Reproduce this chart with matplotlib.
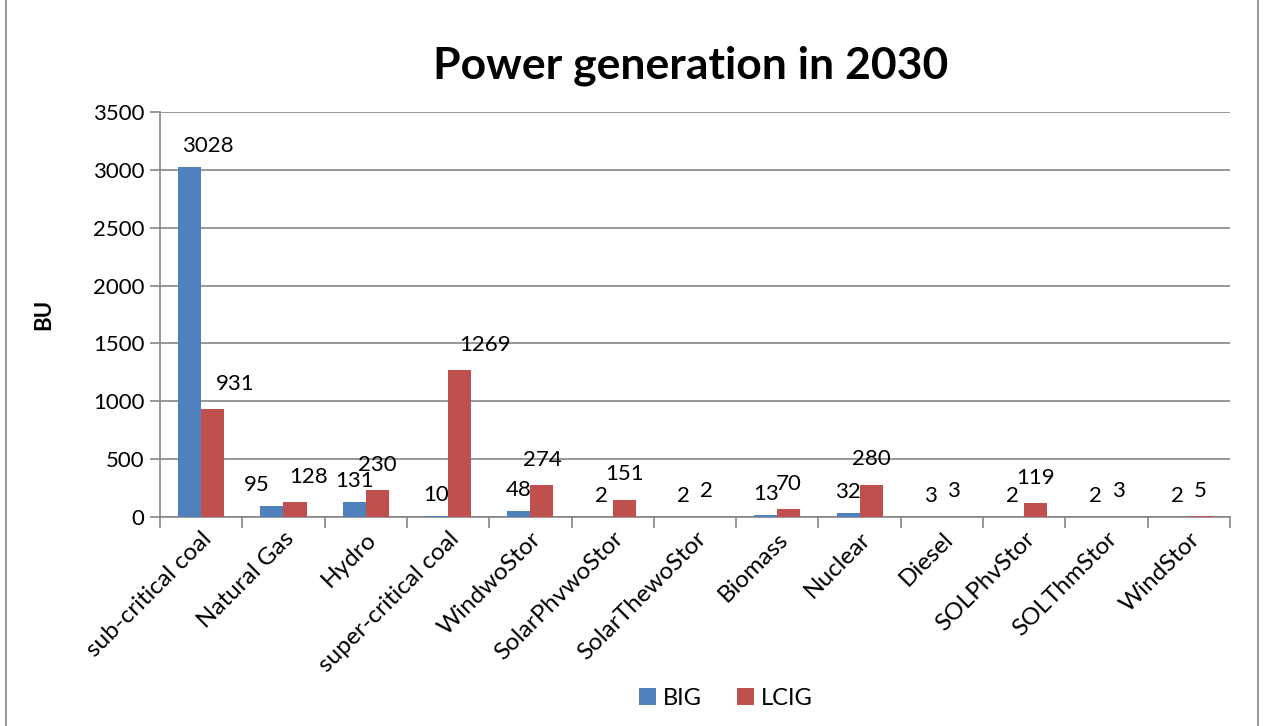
import numpy as np
import matplotlib
matplotlib.use("Agg")
import matplotlib.pyplot as plt
from matplotlib.patches import Rectangle

# data
categories = ['sub-critical coal', 'Natural Gas', 'Hydro', 'super-critical coal',
              'WindwoStor', 'SolarPhvwoStor', 'SolarThewoStor', 'Biomass',
              'Nuclear', 'Diesel', 'SOLPhvStor', 'SOLThmStor', 'WindStor']
big = [3028, 95, 131, 10, 48, 2, 2, 13, 32, 3, 2, 2, 2]
lcig = [931, 128, 230, 1269, 274, 151, 2, 70, 280, 3, 119, 3, 5]
yticks = [0, 500, 1000, 1500, 2000, 2500, 3000, 3500]

# a few data labels were dragged sideways in the original (offsets in points)
big_nudge = {0: 13, 1: -11}
lcig_nudge = {0: 16, 1: 10, 3: 18}

plt.rcParams['font.family'] = ['Lato', 'DejaVu Sans']

fig = plt.figure(figsize=(12.63, 7.26), dpi=100)
ax = fig.add_axes([160/1263, 1 - 517/726, (1230-160)/1263, (517-112)/726])

x = np.arange(len(categories))
w = 0.28
blue = '#4F81BD'
red = '#C0504D'
b1 = ax.bar(x - w/2, big, w, color=blue, label='BIG', zorder=3)
b2 = ax.bar(x + w/2, lcig, w, color=red, label='LCIG', zorder=3)

for bars, nudge, dy in ((b1, big_nudge, 8), (b2, lcig_nudge, 11)):
    for i, r in enumerate(bars):
        ax.annotate(f'{int(r.get_height())}', (r.get_x() + r.get_width()/2, r.get_height()),
                    xytext=(nudge.get(i, 0), dy), textcoords='offset points',
                    ha='center', va='bottom', fontsize=16, color='black')

ax.set_xlim(-0.5, len(categories) - 0.5)
ax.set_ylim(0, 3500)
ax.set_yticks(yticks)
ax.set_yticklabels([str(v) for v in yticks], fontsize=16)
ax.yaxis.grid(True, color='#868686', linewidth=1.2, zorder=0)

ax.set_xticks(np.arange(len(categories) + 1) - 0.5)
ax.set_xticklabels([])
ax.set_xticks(x, minor=True)
ax.set_xticklabels(categories, minor=True, rotation=45, ha='right',
                   rotation_mode='anchor', fontsize=17.5)
ax.tick_params(axis='x', which='minor', length=0, pad=8)
ax.tick_params(axis='x', which='major', length=8, color='#868686', width=1.2)
ax.tick_params(axis='y', length=7, color='#868686', width=1.2, pad=4)

for s in ['top', 'right']:
    ax.spines[s].set_visible(False)
for s in ['left', 'bottom']:
    ax.spines[s].set_color('#868686')
    ax.spines[s].set_linewidth(1.2)

ax.set_ylabel('BU', fontsize=16, fontweight='bold', labelpad=28)
fig.text(0.547, 0.91, 'Power generation in 2030', ha='center', va='center',
         fontsize=32, fontweight='bold')

fig.legend(loc='center', bbox_to_anchor=(0.575, 0.038), ncol=2, frameon=False,
           fontsize=17, handlelength=0.7, handleheight=0.7, columnspacing=1.5,
           handletextpad=0.3)

fig.patches.append(Rectangle((6/1263, -0.01), 1252/1263, 1.02, transform=fig.transFigure,
                             fill=False, edgecolor='#868686', linewidth=1.2))

fig.savefig('out.png', dpi=100)
